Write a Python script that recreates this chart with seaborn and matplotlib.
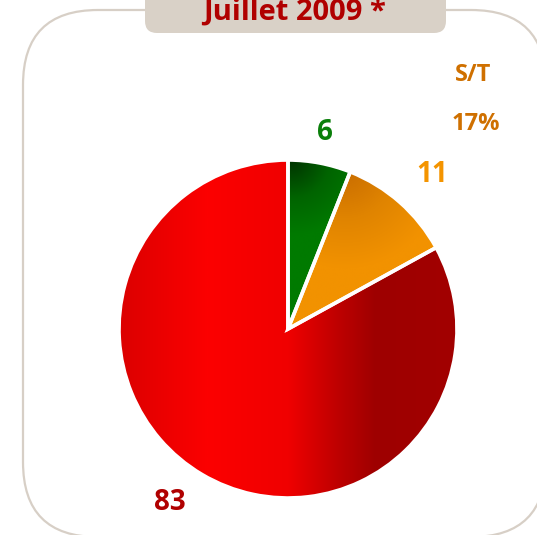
import numpy as np
import matplotlib
matplotlib.use("Agg")
import matplotlib.pyplot as plt
from matplotlib.patches import FancyBboxPatch
import seaborn as sns

# Share of each category (July 2009)
categories = ["Vert", "Orange", "Rouge"]
values = [6, 11, 83]
label_colors = ["#0a7f0a", "#f49400", "#b00000"]
title = "Juillet 2009 *"
side_title = "S/T"
side_value = "17%"

sns.set_style("white")
plt.rcParams["font.family"] = ["Open Sans", "DejaVu Sans"]

W, H = 537, 535
fig = plt.figure(figsize=(W / 100, H / 100), dpi=100)
ax = fig.add_axes([0, 0, 1, 1])


def py(y):
    """Convert a top-down pixel row to data y."""
    return H - y


# Outer rounded frame
frame = FancyBboxPatch((23, py(537)), 523, 527,
                       boxstyle="round,pad=0,rounding_size=75",
                       facecolor="white", edgecolor="#d7cfc6", linewidth=1.6, zorder=0)
ax.add_patch(frame)

# Title tab
tab = FancyBboxPatch((145, py(33)), 301, 60,
                     boxstyle="round,pad=0,rounding_size=12",
                     facecolor="#d9d1c7", edgecolor="none", zorder=1)
ax.add_patch(tab)
ax.text(295, py(20), title, ha="center", va="baseline", fontsize=21,
        fontweight="bold", color="#b00000", zorder=2)

# Pie
cx, cy, R = 288, py(329), 169
wedges, _ = ax.pie(values, startangle=90, counterclock=False, center=(cx, cy),
                   radius=R, frame=True,
                   wedgeprops=dict(edgecolor="white", linewidth=2.6))

# Gradient fills clipped to each wedge
n = 400
xs = np.linspace(cx - R, cx + R, n)
ys = np.linspace(cy + R, cy - R, n)
X, Y = np.meshgrid(xs, ys)
extent = (cx - R, cx + R, cy - R, cy + R)

red_cmap = sns.blend_palette(["#dc0000", "#fc0000", "#f00000", "#c40000",
                              "#9e0000", "#a20000"], n_colors=256, as_cmap=True)
t_red = (X - (cx - R)) / (2 * R)
# bright band left of centre, dark band right of it
t_red = np.interp(t_red, [0, 0.26, 0.5, 0.63, 0.76, 1.0],
                  [0, 0.2, 0.4, 0.6, 0.8, 1.0])

green_cmap = sns.blend_palette(["#003400", "#006400", "#007a00"], as_cmap=True)
t_green = np.clip(np.hypot(X - 292, Y - py(160)) / 75, 0, 1)

orange_cmap = sns.blend_palette(["#c86c00", "#e08400", "#f29200"], as_cmap=True)
t_orange = np.clip(np.hypot(X - 345, Y - py(168)) / 100, 0, 1)

for w, t, cmap in zip(wedges, [t_green, t_orange, t_red],
                      [green_cmap, orange_cmap, red_cmap]):
    im = ax.imshow(t, cmap=cmap, vmin=0, vmax=1, extent=extent,
                   interpolation="bilinear", zorder=2, aspect="auto")
    im.set_clip_path(w)
    w.set_facecolor("none")
    w.set_zorder(3)

# Value labels
label_pos = [(325, 133), (432, 175), (170, 503)]
for v, (lx, ly), c in zip(values, label_pos, label_colors):
    ax.text(lx, py(ly), f"{v}", ha="center", va="center", fontsize=20,
            fontweight="bold", color=c, zorder=4)

ax.text(473, py(75), side_title, ha="center", va="center", fontsize=17,
        fontweight="bold", color="#cf7000", zorder=4)
ax.text(476, py(124), side_value, ha="center", va="center", fontsize=17,
        fontweight="bold", color="#cf7000", zorder=4)

ax.set_xlim(0, W)
ax.set_ylim(0, H)
ax.set_aspect("equal")
ax.axis("off")

fig.savefig("out.png", dpi=100)
